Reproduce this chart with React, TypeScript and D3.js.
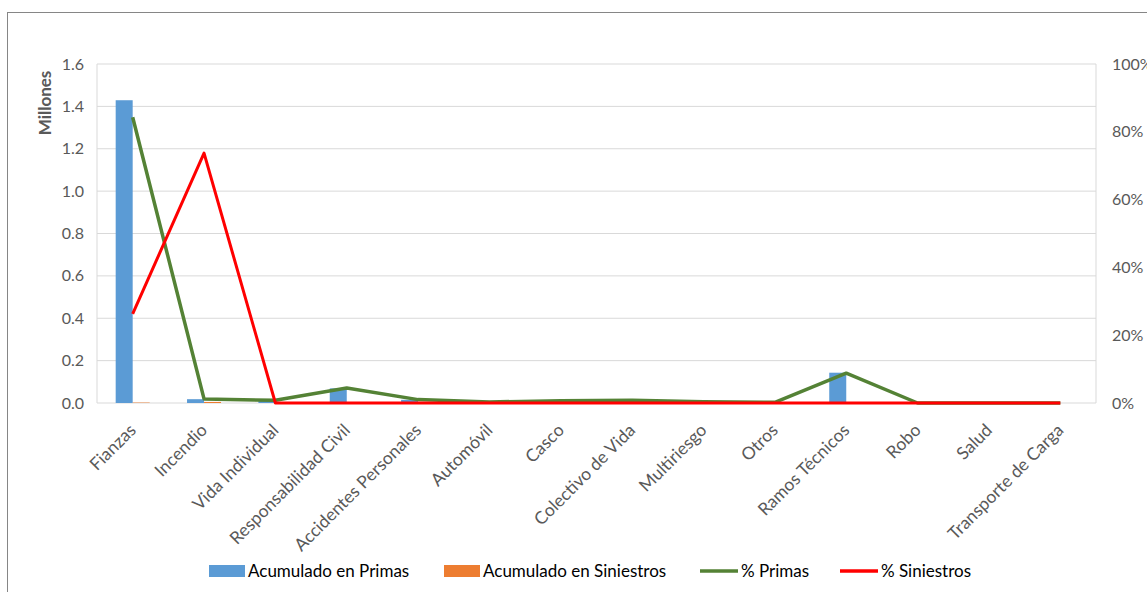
import React from 'react';
import * as d3 from 'd3';

const categories = [
  'Fianzas', 'Incendio', 'Vida Individual', 'Responsabilidad Civil', 'Accidentes Personales',
  'Automóvil', 'Casco', 'Colectivo de Vida', 'Multiriesgo', 'Otros', 'Ramos Técnicos',
  'Robo', 'Salud', 'Transporte de Carga',
];

// millones
const primas = [1.429, 0.018, 0.012, 0.069, 0.015, 0.005, 0.01, 0.012, 0.005, 0.003, 0.143, 0, 0, 0];
const siniestros = [0.002, 0.005, 0, 0, 0, 0, 0, 0, 0, 0, 0, 0, 0, 0];
// porcentajes (0-1)
const pctPrimas = [0.843, 0.012, 0.008, 0.044, 0.01, 0.003, 0.007, 0.008, 0.004, 0.002, 0.088, 0, 0, 0];
const pctSiniestros = [0.263, 0.737, 0, 0, 0, 0, 0, 0, 0, 0, 0, 0, 0, 0];

const leftTicks = [0, 0.2, 0.4, 0.6, 0.8, 1.0, 1.2, 1.4, 1.6];
const rightTicks = [0, 0.2, 0.4, 0.6, 0.8, 1.0];

const legendItems = [
  { label: 'Acumulado en Primas', kind: 'bar', color: '#5B9BD5', x: 209 },
  { label: 'Acumulado en Siniestros', kind: 'bar', color: '#ED7D31', x: 444 },
  { label: '% Primas', kind: 'line', color: '#548235', x: 700 },
  { label: '% Siniestros', kind: 'line', color: '#FF0000', x: 840 },
];

const FONT = 'Lato, "Open Sans", sans-serif';
const TEXT = '#595959';

export default function App() {
  const W = 1147, H = 592;
  const plot = { left: 97, right: 1096, top: 64, bottom: 403 };

  const x = d3.scaleBand<string>().domain(categories).range([plot.left, plot.right]);
  const yL = d3.scaleLinear().domain([0, 1.6]).range([plot.bottom, plot.top]);
  const yR = d3.scaleLinear().domain([0, 1]).range([plot.bottom, plot.top]);
  const barW = 17;
  const cx = (c: string) => (x(c) as number) + x.bandwidth() / 2;

  const line = d3.line<number>()
    .x((_, i) => cx(categories[i]))
    .y(d => yR(d));

  return (
    <svg width={W} height={H} style={{ position: 'absolute', left: 0, top: 0, background: '#fff' }} fontFamily={FONT}>
      <rect x={7.5} y={12.5} width={W} height={H} fill="#fff" stroke="#868686" strokeWidth={1} />

      {/* gridlines */}
      {leftTicks.map(t => (
        <line key={t} x1={plot.left} x2={plot.right} y1={yL(t)} y2={yL(t)} stroke="#D9D9D9" strokeWidth={1} />
      ))}
      <line x1={plot.left} x2={plot.left} y1={plot.top} y2={plot.bottom} stroke="#D9D9D9" />
      <line x1={plot.right} x2={plot.right} y1={plot.top} y2={plot.bottom} stroke="#D9D9D9" />

      {/* bars */}
      {categories.map((c, i) => (
        <g key={c}>
          <rect x={cx(c) - barW} y={yL(primas[i])} width={barW} height={plot.bottom - yL(primas[i])} fill="#5B9BD5" />
          <rect x={cx(c)} y={yL(siniestros[i])} width={barW} height={plot.bottom - yL(siniestros[i])} fill="#ED7D31" />
        </g>
      ))}

      {/* lines */}
      <path d={line(pctPrimas) || ''} fill="none" stroke="#548235" strokeWidth={3.5} strokeLinejoin="round" />
      <path d={line(pctSiniestros) || ''} fill="none" stroke="#FF0000" strokeWidth={3} strokeLinejoin="round" />

      {/* left axis */}
      {leftTicks.map(t => (
        <text key={t} x={84} y={yL(t)} dy="0.35em" textAnchor="end" fontSize={16} fill={TEXT}>{t.toFixed(1)}</text>
      ))}
      <text transform={`translate(51,103) rotate(-90)`} textAnchor="middle" fontSize={17} fontWeight="bold" fill={TEXT}>Millones</text>

      {/* right axis */}
      {rightTicks.map(t => (
        <text key={t} x={1112} y={yR(t)} dy="0.35em" textAnchor="start" fontSize={16} fill={TEXT}>{d3.format('.0%')(t)}</text>
      ))}

      {/* category labels */}
      {categories.map(c => (
        <text key={c} transform={`translate(${cx(c)},${plot.bottom + 24}) rotate(-45)`} textAnchor="end" dy="0.35em" fontSize={17.5} fill={TEXT}>{c}</text>
      ))}

      {/* legend */}
      {legendItems.map(it => (
        <g key={it.label} transform={`translate(${it.x},571)`}>
          {it.kind === 'bar'
            ? <rect x={0} y={-6} width={36} height={12} fill={it.color} />
            : <line x1={0} x2={38} y1={0} y2={0} stroke={it.color} strokeWidth={3.5} />}
          <text x={it.kind === 'bar' ? 39 : 41} y={0} dy="0.35em" fontSize={17} fill="#000">{it.label}</text>
        </g>
      ))}
    </svg>
  );
}
